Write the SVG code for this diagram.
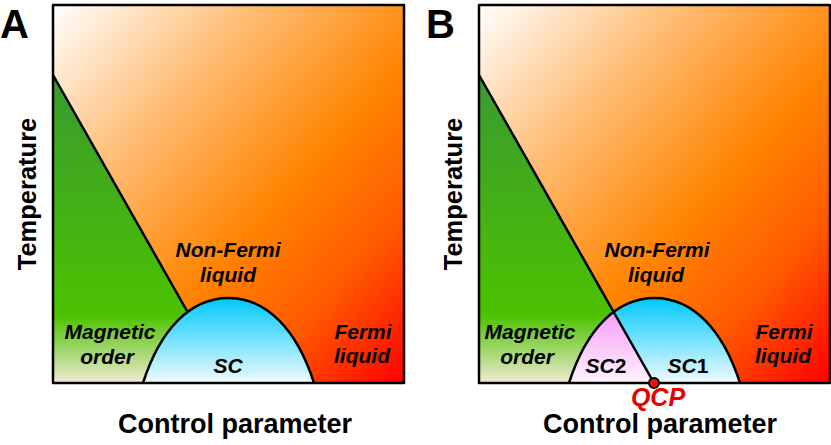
<svg xmlns="http://www.w3.org/2000/svg" width="831" height="445" viewBox="0 0 831 445">
<defs>
<linearGradient id="bg" x1="0" y1="0" x2="1" y2="1">
<stop offset="0" stop-color="#ffffff"/>
<stop offset="0.3" stop-color="#ffbb70"/>
<stop offset="0.58" stop-color="#ff8400"/>
<stop offset="0.78" stop-color="#ff5a00"/>
<stop offset="1" stop-color="#ff0000"/>
</linearGradient>
<linearGradient id="green" gradientUnits="userSpaceOnUse" x1="0" y1="75" x2="0" y2="383">
<stop offset="0" stop-color="#3a9a30"/>
<stop offset="0.78" stop-color="#4cc200"/>
<stop offset="1" stop-color="#f0ead2"/>
</linearGradient>
<linearGradient id="blue" gradientUnits="userSpaceOnUse" x1="0" y1="298" x2="0" y2="383">
<stop offset="0" stop-color="#00c8f8"/>
<stop offset="1" stop-color="#f0fbff"/>
</linearGradient>
<linearGradient id="pink" gradientUnits="userSpaceOnUse" x1="0" y1="310" x2="0" y2="383">
<stop offset="0" stop-color="#f49cf4"/>
<stop offset="1" stop-color="#fff4ff"/>
</linearGradient>
</defs>
<style>
text{font-family:"Liberation Sans",Arial,sans-serif;font-weight:bold;fill:#000}
.lbl{font-size:21px;font-style:italic;text-anchor:middle}
.axis{font-size:27px;text-anchor:middle}
.temp{font-size:25.5px;text-anchor:middle}
.panel{font-size:40px}
.qcp{font-size:25px;font-style:italic;text-anchor:middle;fill:#e80000}
.ln{fill:none;stroke:#000;stroke-width:2.5;stroke-linejoin:round}
.up{font-style:normal}
</style>

<g id="panelA">
<rect x="53" y="5" width="351" height="378" fill="url(#bg)"/>
<polygon points="53,75 228,383 53,383" fill="url(#green)"/>
<path d="M143,383 C160,330 190,298 228.5,298 C267,298 297,330 314,383 Z" fill="url(#blue)"/>
<g id="connectorsA">
<line class="ln" x1="53" y1="75" x2="187" y2="311"/>
<path class="ln" d="M143,383 C160,330 190,298 228.5,298 C267,298 297,330 314,383"/>
</g>
<rect class="ln" x="53" y="5" width="351" height="378"/>
<text class="panel" x="0" y="38">A</text>
<text class="temp" transform="translate(36,194) rotate(-90)">Temperature</text>
<text class="axis" x="235" y="433">Control parameter</text>
<text class="lbl" x="228" y="257">Non-Fermi</text>
<text class="lbl" x="228" y="282">liquid</text>
<text class="lbl" x="110" y="339">Magnetic</text>
<text class="lbl" x="107" y="364">order</text>
<text class="lbl" x="363" y="339">Fermi</text>
<text class="lbl" x="362" y="363">liquid</text>
<text class="lbl" x="228" y="373">SC</text>
</g>

<g id="panelB">
<rect x="479" y="5" width="351" height="378" fill="url(#bg)"/>
<polygon points="479,75 654,383 479,383" fill="url(#green)"/>
<path d="M569,383 C586,330 616,298 654.5,298 C693,298 723,330 740,383 Z" fill="url(#blue)"/>
<path d="M569,383 C578,352 594,327 614,313 L654,383 Z" fill="url(#pink)"/>
<g id="connectorsB">
<line class="ln" x1="479" y1="75" x2="654" y2="383"/>
<path class="ln" d="M569,383 C586,330 616,298 654.5,298 C693,298 723,330 740,383"/>
</g>
<rect class="ln" x="479" y="5" width="351" height="378"/>
<circle id="qcp" cx="654" cy="383" r="5" fill="#e81010" stroke="#000" stroke-width="2"/>
<text class="panel" x="426" y="38">B</text>
<text class="temp" transform="translate(462,194) rotate(-90)">Temperature</text>
<text class="axis" x="660" y="433">Control parameter</text>
<text class="qcp" x="658" y="406">QCP</text>
<text class="lbl" x="657" y="257">Non-Fermi</text>
<text class="lbl" x="656" y="282">liquid</text>
<text class="lbl" x="530" y="339">Magnetic</text>
<text class="lbl" x="527" y="364">order</text>
<text class="lbl" x="784" y="339">Fermi</text>
<text class="lbl" x="783" y="363">liquid</text>
<text class="lbl" x="606" y="373">SC<tspan class="up">2</tspan></text>
<text class="lbl" x="688" y="373">SC<tspan class="up">1</tspan></text>
</g>
</svg>
